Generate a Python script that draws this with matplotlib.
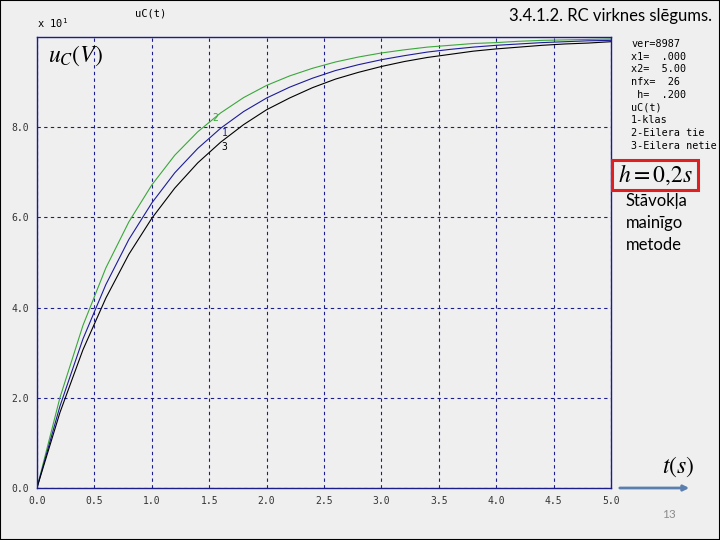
import matplotlib
matplotlib.use('Agg')
import matplotlib.pyplot as plt
from matplotlib.patches import Rectangle

# time grid of the simulation (nfx = 26 points, h = 0.2 s)
T = [0.0, 0.2, 0.4, 0.6, 0.8, 1.0, 1.2, 1.4, 1.6, 1.8, 2.0, 2.2, 2.4,
     2.6, 2.8, 3.0, 3.2, 3.4, 3.6, 3.8, 4.0, 4.2, 4.4, 4.6, 4.8, 5.0]

# uC(t), volts: 1 - classical, 2 - forward Euler, 3 - backward Euler
U_CLASSIC = [0.0, 18.1, 33.0, 45.1, 55.1, 63.2, 69.9, 75.3, 79.8, 83.5, 86.5, 88.9, 90.9,
             92.6, 93.9, 95.0, 95.9, 96.7, 97.3, 97.8, 98.2, 98.5, 98.8, 99.0, 99.2, 99.3]
U_EULER_FWD = [0.0, 20.0, 36.0, 48.8, 59.0, 67.2, 73.8, 79.0, 83.2, 86.6, 89.3, 91.4, 93.1,
               94.5, 95.6, 96.5, 97.2, 97.8, 98.2, 98.6, 98.8, 99.1, 99.3, 99.4, 99.5, 99.6]
U_EULER_BWD = [0.0, 16.7, 30.6, 42.1, 51.8, 59.8, 66.5, 72.1, 76.7, 80.6, 83.9, 86.5, 88.8,
               90.7, 92.2, 93.5, 94.6, 95.5, 96.2, 96.9, 97.4, 97.8, 98.2, 98.5, 98.7, 99.0]

X_TICKS = [0.0, 0.5, 1.0, 1.5, 2.0, 2.5, 3.0, 3.5, 4.0, 4.5, 5.0]
Y_TICKS = [0.0, 2.0, 4.0, 6.0, 8.0]
SCALE = 10  # axis shows values x 10^1

INFO_LINES = ['ver=8987', 'x1=  .000', 'x2=  5.00', 'nfx=  26', ' h=  .200',
              'uC(t)', '1-klas', '2-Eilera tie', '3-Eilera netie']
NOTE_LINES = ['Stāvokļa', 'mainīgo', 'metode']

BG = '#efefef'
NAVY = '#1c1c8c'
MONO = 'DejaVu Sans Mono'

plt.rcParams['mathtext.fontset'] = 'stix'

fig = plt.figure(figsize=(7.2, 5.4), dpi=100, facecolor=BG)
ax = fig.add_axes([37 / 720, 1 - 487.7 / 540, 574 / 720, 450.5 / 540])
ax.set_facecolor(BG)

ax.plot(T, [u / SCALE for u in U_EULER_FWD], color='#3aa83a', lw=0.8)
ax.plot(T, [u / SCALE for u in U_CLASSIC], color='#1c1c9a', lw=0.8)
ax.plot(T, [u / SCALE for u in U_EULER_BWD], color='black', lw=0.8)

ax.set_xlim(0, 5)
ax.set_ylim(0, 10)
ax.set_xticks(X_TICKS)
ax.set_yticks(Y_TICKS)
ax.set_xticklabels([f'{v:.1f}' for v in X_TICKS], family=MONO, fontsize=7, color='#333333')
ax.set_yticklabels([f'{v:.1f}' for v in Y_TICKS], family=MONO, fontsize=7, color='#333333')
ax.tick_params(length=0, pad=6)
ax.grid(True, color=NAVY, ls=(0, (3, 3)), lw=0.8)
for s in ax.spines.values():
    s.set_color(NAVY)
    s.set_linewidth(1.0)

# curve numbers
ax.text(1.53, 8.2, '2', family=MONO, fontsize=7, color='#3aa83a', ha='left', va='center')
ax.text(1.61, 7.87, '1', family=MONO, fontsize=7, color='#1c1c9a', ha='left', va='center')
ax.text(1.61, 7.56, '3', family=MONO, fontsize=7, color='black', ha='left', va='center')

ax.text(0.02, 0.985, r'$u_C(V)$', transform=ax.transAxes, fontsize=17, ha='left', va='top')

# header texts of the old plot program
fig.text(135 / 720, 1 - 13 / 540, 'uC(t)', family=MONO, fontsize=7.5, va='center')
fig.text(37 / 720, 1 - 23 / 540, r'x 10$^{\mathregular{1}}$', family=MONO, fontsize=7.5, va='center')

for i, line in enumerate(INFO_LINES):
    fig.text(631 / 720, 1 - (44 + i * 12.7) / 540, line, family=MONO, fontsize=7.3, va='center')

# slide decorations
fig.text(712 / 720, 1 - 16 / 540, '3.4.1.2. RC virknes slēgums.', family='Lato',
         fontsize=12, ha='right', va='center')
fig.patches.append(Rectangle((612 / 720, 1 - 190 / 540), 86 / 720, 30 / 540,
                             transform=fig.transFigure, fill=False, ec='#e02020', lw=2.2))
fig.text(655 / 720, 1 - 175 / 540, r'$h=0{,}2s$', fontsize=17, ha='center', va='center')
for i, line in enumerate(NOTE_LINES):
    fig.text(626 / 720, 1 - (201 + i * 22) / 540, line, family='Lato', fontsize=12, va='center')

fig.text(678 / 720, 1 - 467 / 540, r'$t(s)$', fontsize=17, ha='center', va='center')
ax.annotate('', xy=(692 / 720, 1 - 488 / 540), xytext=(617 / 720, 1 - 488 / 540),
            xycoords='figure fraction', textcoords='figure fraction',
            arrowprops=dict(arrowstyle='-|>', color='#5a7fae', lw=2, mutation_scale=8))
fig.text(669 / 720, 1 - 514 / 540, '13', family='Lato', fontsize=8.5, color='#8c8c8c',
         ha='center', va='center')

fig.patches.append(Rectangle((0.0, 0.0), 1.0, 1.0, transform=fig.transFigure,
                             fill=False, ec='black', lw=1.5))

fig.savefig('out.png', dpi=100, facecolor=BG)
